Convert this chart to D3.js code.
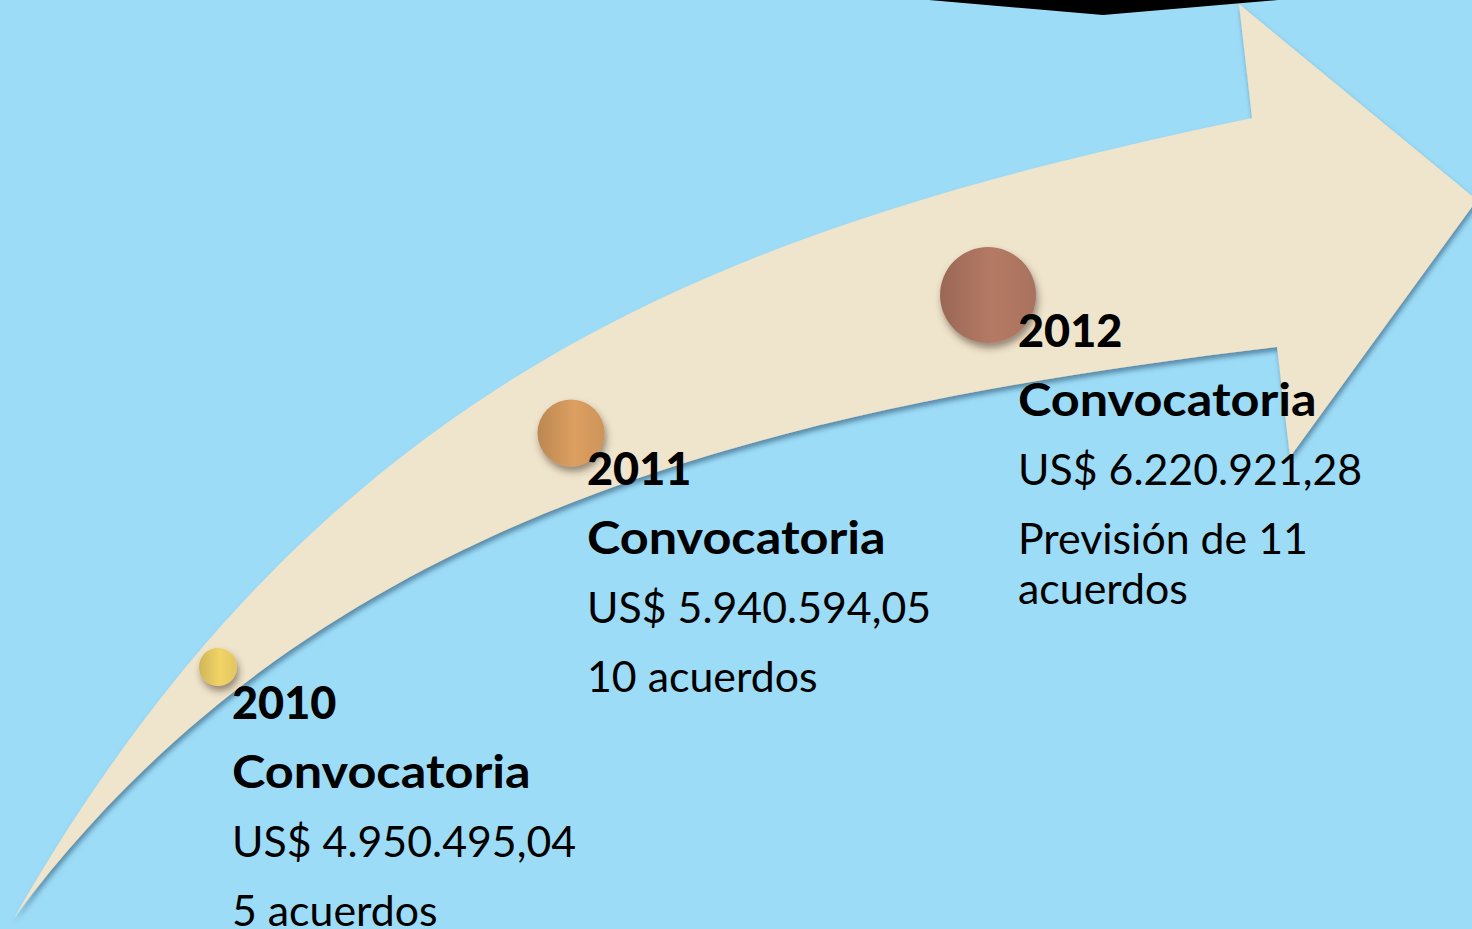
<!DOCTYPE html>
<html>
<head>
<meta charset="utf-8">
<script src="https://cdn.jsdelivr.net/npm/d3@7"></script>
<style>
  html, body { margin: 0; padding: 0; background: #9ddcf7; overflow: hidden; }
  text { font-family: Lato, "Open Sans", sans-serif; fill: #000; }
</style>
</head>
<body>
<svg id="chart"></svg>
<script>
// data
const years = ["2010", "2011", "2012"];
const callLabel = "Convocatoria";
const amounts = ["US$ 4.950.495,04", "US$ 5.940.594,05", "US$ 6.220.921,28"];
const agreements = ["5 acuerdos", "10 acuerdos", "Previsión de 11 acuerdos"];

// layout (design space = 1472 x 929)
const W = 1472, H = 929;
const tail = [14, 918];
// cubic bezier control points of the two shaft edges (tail -> head)
const upperEdge = [[334,358],[752,223.5],[1252,118]];
const lowerEdge = [[314,513],[777,407],[1277,347]];
const head = [[1239,4],[1477,200],[1290,457]];
const banner = [[929,0],[1103,15],[1278,0]];
const spots = [[218,667],[571,433],[988,295]];
const labelX = [232, 587, 1018];
// horizontal fit of the fallback font to the original text widths
const squeeze = {year: 1, label: 1.12, regular: 1.02};

const x = d3.scaleLinear().domain([0, W]).range([0, window.innerWidth || W]);
const y = d3.scaleLinear().domain([0, H]).range([0, window.innerHeight || H]);
const r = d3.scaleLinear().domain([0, years.length - 1]).range([19, 48]);
const color = d3.scaleOrdinal(years, ["#f2d466", "#dc9f60", "#b57a65"]);

const svg = d3.select("#chart")
  .attr("width", x(W)).attr("height", y(H))
  .style("display", "block");

const defs = svg.append("defs");
defs.append("filter").attr("id", "arrowShadow")
  .attr("x", "-10%").attr("y", "-10%").attr("width", "130%").attr("height", "130%")
  .append("feDropShadow")
  .attr("dx", 1.5).attr("dy", 4).attr("stdDeviation", 2.5)
  .attr("flood-color", "#1d4a66").attr("flood-opacity", 0.55);
defs.append("filter").attr("id", "dotShadow")
  .attr("x", "-50%").attr("y", "-50%").attr("width", "200%").attr("height", "200%")
  .append("feDropShadow")
  .attr("dx", 2).attr("dy", 5).attr("stdDeviation", 3.5)
  .attr("flood-color", "#3a2a1a").attr("flood-opacity", 0.5);

years.forEach(yr => {
  const base = d3.color(color(yr));
  const g = defs.append("linearGradient").attr("id", "dot" + yr)
    .attr("x1", "0%").attr("x2", "100%").attr("y1", "0%").attr("y2", "0%");
  g.append("stop").attr("offset", "0%").attr("stop-color", base.darker(0.45));
  g.append("stop").attr("offset", "55%").attr("stop-color", base);
  g.append("stop").attr("offset", "100%").attr("stop-color", base.darker(0.2));
});

// black banner edge at the top
svg.append("path")
  .attr("d", d3.line().x(d => x(d[0])).y(d => y(d[1]))(banner) + "Z")
  .attr("fill", "#000");

// arrow: upper edge, head, lower edge back to the tail
const p = d3.path();
const pt = d => [x(d[0]), y(d[1])];
p.moveTo(...pt(tail));
p.bezierCurveTo(...pt(upperEdge[0]), ...pt(upperEdge[1]), ...pt(upperEdge[2]));
head.forEach(d => p.lineTo(...pt(d)));
p.lineTo(...pt(lowerEdge[2]));
p.bezierCurveTo(...pt(lowerEdge[1]), ...pt(lowerEdge[0]), ...pt(tail));
p.closePath();

svg.append("path")
  .attr("d", p.toString())
  .attr("fill", "#efe4cc")
  .attr("filter", "url(#arrowShadow)");

// milestones
svg.selectAll("circle.dot")
  .data(years)
  .join("circle")
  .attr("class", "dot")
  .attr("cx", (d, i) => x(spots[i][0]))
  .attr("cy", (d, i) => y(spots[i][1]))
  .attr("r", (d, i) => r(i))
  .attr("fill", d => `url(#dot${d})`)
  .attr("filter", "url(#dotShadow)");

const lineStep = 69, wrapStep = 50, firstOffset = 52, maxWidth = 360;

const fit = (sel, kind) => {
  sel.each(function() {
    const w = this.getComputedTextLength();
    if (squeeze[kind] !== 1) {
      d3.select(this).attr("textLength", w * squeeze[kind]).attr("lengthAdjust", "spacingAndGlyphs");
    }
  });
};

years.forEach((yr, i) => {
  const g = svg.append("g").attr("class", "label");
  const tx = x(labelX[i]);
  let by = y(spots[i][1] + firstOffset);

  const t1 = g.append("text").attr("x", tx).attr("y", by)
    .attr("font-size", 45).attr("font-weight", 900).text(yr);
  fit(t1, "year");
  by += lineStep;
  const t2 = g.append("text").attr("x", tx).attr("y", by)
    .attr("font-size", 45).attr("font-weight", 700).text(callLabel);
  fit(t2, "label");
  by += lineStep;
  const t3 = g.append("text").attr("x", tx).attr("y", by)
    .attr("font-size", 42).attr("font-weight", 400).text(amounts[i]);
  fit(t3, "regular");
  by += lineStep;

  // wrap agreement text the way the text box does
  const words = agreements[i].split(" ");
  let line = [];
  let t = g.append("text").attr("x", tx).attr("y", by).attr("font-size", 42);
  words.forEach(wd => {
    line.push(wd);
    t.text(line.join(" "));
    if (t.node().getComputedTextLength() * squeeze.regular > maxWidth && line.length > 1) {
      line.pop();
      t.text(line.join(" "));
      fit(t, "regular");
      line = [wd];
      by += wrapStep;
      t = g.append("text").attr("x", tx).attr("y", by).attr("font-size", 42).text(wd);
    }
  });
  fit(t, "regular");
});
</script>
</body>
</html>
